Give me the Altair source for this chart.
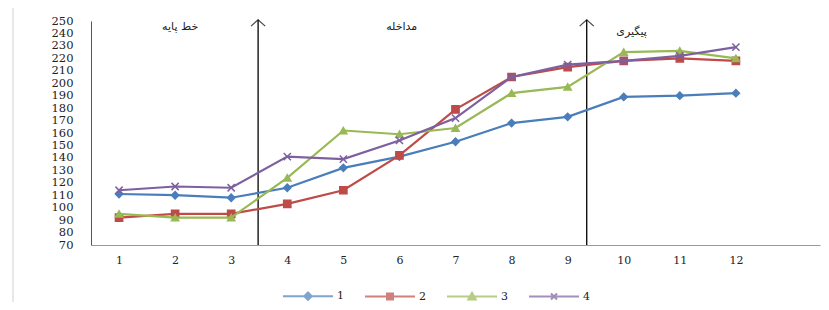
import altair as alt
import pandas as pd

# ---- data ----
sessions = list(range(1, 13))
series_names = ["1", "2", "3", "4"]
s1 = [111, 110, 108, 116, 132, 141, 153, 168, 173, 189, 190, 192]
s2 = [92, 95, 95, 103, 114, 142, 179, 205, 213, 218, 220, 218]
s3 = [95, 92, 92, 124, 162, 159, 164, 192, 197, 225, 226, 220]
s4 = [114, 117, 116, 141, 139, 154, 172, 205, 215, 218, 222, 229]
y_ticks = list(range(70, 251, 10))

phase_labels = ["خط پایه", "مداخله", "پیگیری"]
phase_x = [2.09, 6.04, 10.14]
phase_y = [245, 245, 241]
arrow_x = [3.48, 9.34]

colors = ["#4A7EBB", "#BE4B48", "#98B954", "#7D60A0"]
marker_shapes = ["diamond", "square", "triangle-up", "M-1,-1L1,1M-1,1L1,-1"]
legend_shapes = [
    "M-1,0H1M0,-0.15L0.15,0L0,0.15L-0.15,0Z",
    "M-1,0H1M-0.12,-0.12H0.12V0.12H-0.12Z",
    "M-1,0H1M0,-0.15L0.15,0.12H-0.15Z",
    "M-1,0H1M-0.12,-0.12L0.12,0.12M-0.12,0.12L0.12,-0.12",
]

rows = []
for name, vals in zip(series_names, [s1, s2, s3, s4]):
    for s, v in zip(sessions, vals):
        rows.append({"session": s, "value": v, "series": name})
df = pd.DataFrame(rows)

FONT = "DejaVu Serif"

x_scale = alt.Scale(domain=[0.5, 13.5], nice=False, zero=False)
y_scale = alt.Scale(domain=[70, 250], nice=False, zero=False)
x_axis = alt.Axis(values=sessions, format="d", ticks=False, grid=False, labelPadding=9,
                  domainColor="#9a9a9a", title=None, labelFont=FONT, labelFontSize=11,
                  labelColor="#222222", labelOverlap=False)
y_axis = alt.Axis(values=y_ticks, ticks=False, grid=False, labelPadding=18,
                  domainColor="#555555", title=None, labelFont=FONT, labelFontSize=11.5,
                  labelColor="#222222", labelOverlap=False, labelFlush=False)

def X(f):
    return alt.X(f, scale=x_scale, axis=x_axis)

def Y(f):
    return alt.Y(f, scale=y_scale, axis=y_axis)

layers = []

# chart-area frame
frame = alt.Chart(pd.DataFrame({"a": [0]})).mark_rect(
    fill=None, stroke="#d0d0d0", strokeWidth=1
).encode(x=alt.value(-78), x2=alt.value(800), y=alt.value(-13.5), y2=alt.value(300))
layers.append(frame)

# phase arrows
arr_df = pd.DataFrame({"session": arrow_x, "value": [70] * 2, "top": [251] * 2})
rules = alt.Chart(arr_df).mark_rule(color="#000000", strokeWidth=1.3).encode(
    x=X("session:Q"), y=Y("value:Q"), y2="top:Q"
)
heads = alt.Chart(arr_df).mark_point(
    shape="M-1,0.9L0,0L1,0.9", filled=False, stroke="#000000", strokeWidth=1.3, size=200
).encode(x=X("session:Q"), y=Y("top:Q"))
layers += [rules, heads]

# series lines + markers
for name, col, shp in zip(series_names, colors, marker_shapes):
    sub = alt.Chart(df).transform_filter(alt.datum.series == name)
    layers.append(sub.mark_line(color=col, strokeWidth=2.2).encode(x=X("session:Q"), y=Y("value:Q")))
    layers.append(
        sub.mark_point(shape=shp, filled=True, fill=col, stroke=col, strokeWidth=1.5,
                       size=52, opacity=1).encode(x=X("session:Q"), y=Y("value:Q"))
    )

# phase labels
txt_df = pd.DataFrame({"label": phase_labels, "session": phase_x, "value": phase_y})
texts = alt.Chart(txt_df).mark_text(font="DejaVu Sans", fontSize=11, color="#222222").encode(
    x=X("session:Q"), y=Y("value:Q"), text="label:N"
)
layers.append(texts)

# legend layer (no marks drawn; only the legend)
legend_def = alt.Legend(
    title=None, orient="none", legendX=191, legendY=249, direction="horizontal",
    symbolSize=2500, symbolStrokeWidth=2, labelFont=FONT, labelFontSize=11,
    labelColor="#222222", labelOffset=3, columnPadding=17,
)
leg = alt.Chart(df).transform_filter("false").mark_point(filled=True, strokeWidth=2).encode(
    x=X("session:Q"), y=Y("value:Q"),
    color=alt.Color("series:N", scale=alt.Scale(domain=series_names, range=colors), legend=legend_def),
    stroke=alt.Stroke("series:N", scale=alt.Scale(domain=series_names, range=colors), legend=legend_def),
    shape=alt.Shape("series:N", scale=alt.Scale(domain=series_names, range=legend_shapes), legend=legend_def),
)
layers.append(leg)

chart = alt.layer(*layers).properties(
    width=729, height=224,
    padding={"left": 83, "top": 13, "right": 1, "bottom": 57},
    autosize=alt.AutoSizeParams(type="none"),
).configure_view(stroke=None).configure_axis(labelOverlap=False)

chart.save("out.html", embed_options={"renderer": "svg", "actions": False})
